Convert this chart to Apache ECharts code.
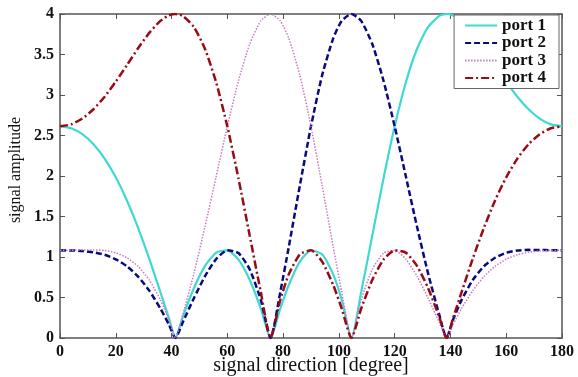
<!DOCTYPE html>
<html>
<head>
<meta charset="utf-8">
<script src="https://cdn.jsdelivr.net/npm/echarts@6/dist/echarts.min.js"></script>
<style>
  html, body { margin: 0; padding: 0; background: #fff; }
  #chart { width: 578px; height: 377px; }
</style>
</head>
<body>
<div id="chart"></div>
<script>
// signal direction (deg)
const angles = [0, 4, 8, 12, 16, 20, 24, 28, 32, 36, 39, 41.4, 44, 48, 52, 56, 60, 64, 68, 72, 75.5,
  79, 82, 86, 90, 94, 98, 101, 104.5, 108, 112, 116, 120, 124, 128, 132, 136, 138.6,
  141, 144, 148, 152, 156, 160, 164, 168, 172, 176, 180];

const port1 = [2.613, 2.589, 2.516, 2.392, 2.215, 1.984, 1.698, 1.360, 0.979, 0.567, 0.251, 0, 0.259, 0.615, 0.890, 1.054, 1.082, 0.968, 0.719, 0.364, 0,
  0.365, 0.651, 0.943, 1.082, 1.033, 0.783, 0.472, 0, 0.567, 1.269, 1.969, 2.613, 3.155, 3.568, 3.840, 3.977, 4,
  3.982, 3.915, 3.767, 3.577, 3.369, 3.165, 2.979, 2.824, 2.709, 2.637, 2.613];

const port2 = [1.082, 1.081, 1.074, 1.058, 1.027, 0.972, 0.885, 0.758, 0.585, 0.364, 0.170, 0, 0.192, 0.490, 0.764, 0.975, 1.082, 1.049, 0.849, 0.471, 0,
  0.569, 1.118, 1.881, 2.613, 3.245, 3.703, 3.914, 4, 3.915, 3.627, 3.176, 2.613, 1.996, 1.376, 0.795, 0.285, 0,
  0.231, 0.471, 0.716, 0.885, 0.991, 1.052, 1.080, 1.088, 1.087, 1.084, 1.082];

const port3 = [1.082, 1.084, 1.087, 1.088, 1.080, 1.052, 0.991, 0.885, 0.716, 0.471, 0.231, 0, 0.285, 0.795, 1.376, 1.996, 2.613, 3.176, 3.627, 3.915, 4,
  3.914, 3.703, 3.245, 2.613, 1.881, 1.118, 0.569, 0, 0.471, 0.849, 1.049, 1.082, 0.975, 0.764, 0.490, 0.192, 0,
  0.170, 0.364, 0.585, 0.758, 0.885, 0.972, 1.027, 1.058, 1.074, 1.081, 1.082];

const port4 = [2.613, 2.637, 2.709, 2.824, 2.979, 3.165, 3.369, 3.577, 3.767, 3.915, 3.982, 4, 3.977, 3.840, 3.568, 3.155, 2.613, 1.969, 1.269, 0.567, 0,
  0.472, 0.783, 1.033, 1.082, 0.943, 0.651, 0.365, 0, 0.364, 0.719, 0.968, 1.082, 1.054, 0.890, 0.615, 0.259, 0,
  0.251, 0.567, 0.979, 1.360, 1.698, 1.984, 2.215, 2.392, 2.516, 2.589, 2.613];

const SERIF = '"Liberation Serif", "DejaVu Serif", serif';
const frame = '#555';

const pairs = (ys) => angles.map((a, i) => [a, ys[i]]);

const lineSeries = (name, ys, style) => ({
  name,
  type: 'line',
  data: pairs(ys),
  symbol: 'none',
  smooth: 0.2,
  lineStyle: style,
  itemStyle: { color: style.color },
  emphasis: { disabled: true },
  animation: false,
});

const xBase = {
  type: 'value', min: 0, max: 180, interval: 20,
  axisLine: { onZero: false, lineStyle: { color: frame, width: 1.5 } },
  axisTick: { inside: true, length: 5, lineStyle: { color: frame } },
  splitLine: { show: false },
};
const yBase = {
  type: 'value', min: 0, max: 4, interval: 0.5,
  axisLine: { onZero: false, lineStyle: { color: frame, width: 1.5 } },
  axisTick: { inside: true, length: 5, lineStyle: { color: frame } },
  splitLine: { show: false },
};

const chart = echarts.init(document.getElementById('chart'));
chart.setOption({
  backgroundColor: '#fff',
  animation: false,
  grid: { left: 60, right: 16, top: 14, bottom: 39, containLabel: false, outerBoundsMode: 'none' },
  xAxis: [
    {
      ...xBase, position: 'bottom',
      axisLabel: { color: '#111', fontFamily: SERIF, fontWeight: 'bold', fontSize: 16, margin: 6 },
      name: 'signal direction [degree]', nameLocation: 'middle', nameGap: 18, nameMoveOverlap: false,
      nameTextStyle: { color: '#111', fontFamily: SERIF, fontSize: 20 },
    },
    { ...xBase, position: 'top', axisLabel: { show: false } },
  ],
  yAxis: [
    {
      ...yBase, position: 'left',
      axisLabel: { color: '#111', fontFamily: SERIF, fontWeight: 'bold', fontSize: 16, margin: 6 },
      name: 'signal amplitude', nameLocation: 'middle', nameGap: 36, nameMoveOverlap: false,
      nameTextStyle: { color: '#111', fontFamily: SERIF, fontSize: 16, padding: [0, 0, 0, 12] },
    },
    { ...yBase, position: 'right', axisLabel: { show: false } },
  ],
  legend: {
    orient: 'vertical',
    right: 19,
    top: 15,
    padding: [2, 13, 2, 10],
    itemWidth: 32,
    itemHeight: 14,
    itemGap: 0.5,
    backgroundColor: '#fff',
    borderColor: '#666',
    borderWidth: 1,
    borderRadius: 0,
    itemStyle: { opacity: 0 },
    textStyle: { color: '#111', fontFamily: SERIF, fontWeight: 'bold', fontSize: 17 },
    data: ['port 1', 'port 2', 'port 3', 'port 4'],
  },
  series: [
    lineSeries('port 1', port1, { color: '#3fd9d2', width: 2.2, type: 'solid' }),
    lineSeries('port 2', port2, { color: '#0a0a80', width: 2.5, type: [6, 3] }),
    lineSeries('port 3', port3, { color: '#c87ac4', width: 1.5, type: [1.5, 1.5] }),
    lineSeries('port 4', port4, { color: '#9a0a14', width: 2.5, type: [8, 3, 2, 3] }),
  ],
});
</script>
</body>
</html>
